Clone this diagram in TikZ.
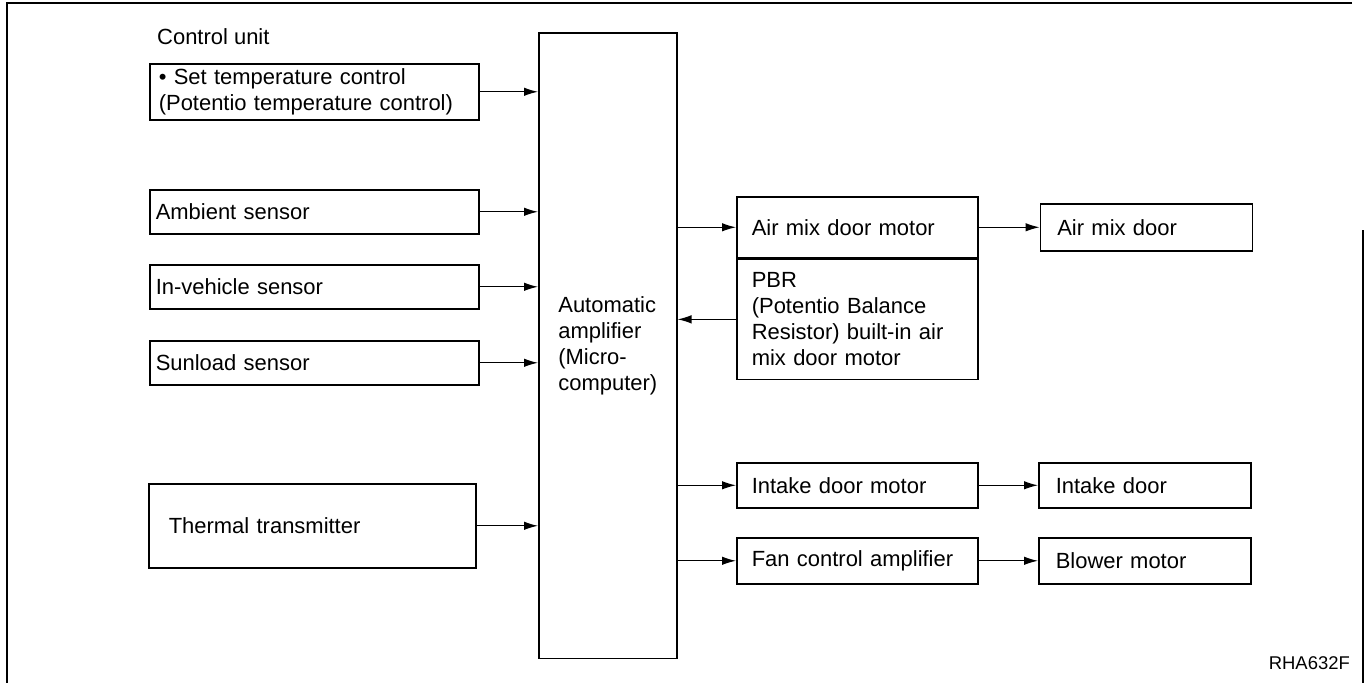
\documentclass[tikz,border=0pt]{standalone}
\usepackage{fontspec}
\setmainfont{Liberation Sans}
\usepackage{tikz}
\usetikzlibrary{arrows.meta,positioning,calc}

\begin{document}
\begin{tikzpicture}[
  x=0.02cm, y=-0.02cm,
  font=\fontsize{12.5}{14.8}\selectfont,
  box/.style={draw,line width=0.9pt,anchor=north west,align=left,inner ysep=1pt,
    execute at begin node={\hyphenpenalty=10000\relax}},
  side/.style={box,text width=6.34cm,inner xsep=0.12cm,minimum height=0.88cm},
  outbox/.style={box,text width=4.22cm,inner xsep=0.3cm,minimum height=0.9cm},
  endbox/.style={box,text width=3.56cm,inner xsep=0.34cm,minimum height=0.9cm},
  arr/.style={-{Latex[length=2.8mm,width=1.7mm]},line width=0.7pt},
  frame/.style={line width=0.9pt}
]
\useasboundingbox (0,0) rectangle (1365,683);
% frame
\draw[frame] (1352,3) -- (7,3) -- (7,683);
\draw[frame] (1363,230) -- (1363,683);
% inputs
\node[anchor=west] (cu) at (151,37) {Control unit};
\node[side,minimum height=1.12cm,text width=6.22cm,inner xsep=0.18cm] (ctrl) at (149,63) {\textbullet\ Set temperature control\\(Potentio temperature control)};
\node[side] (amb) at (149,189) {Ambient sensor};
\node[side] (inveh) at (149,264) {In-vehicle sensor};
\node[side] (sun) at (149,340) {Sunload sensor};
\node[side,text width=5.74cm,inner xsep=0.4cm,minimum height=1.68cm] (therm) at (148,483) {Thermal transmitter};
% amplifier
\node[box,minimum width=2.76cm,minimum height=12.52cm] (amp) at (538,32) {Automatic\\amplifier\\(Micro-\\computer)};
% outputs
\node[outbox,minimum height=1.22cm] (airmot) at (736,196) {Air mix door motor};
\node[outbox,minimum height=2.4cm] (pbr) at (airmot.south west) {PBR\\(Potentio Balance\\Resistor) built-in air\\mix door motor};
\node[endbox,minimum height=0.94cm,anchor=west] (airdoor) at ($(airmot.east)+(61,0)$) {Air mix door};
\node[outbox] (intmot) at (736,462) {Intake door motor};
\node[endbox] (intdoor) at (1038,462) {Intake door};
\node[outbox,minimum height=0.92cm] (fanamp) at (736,537) {Fan control amplifier};
\node[endbox,minimum height=0.92cm] (blower) at (1038,537) {Blower motor};
\node[anchor=east,font=\fontsize{10.5}{12}\selectfont] (code) at (1356,663) {RHA632F};
% connectors
\draw[arr] (ctrl.east) -- (ctrl.east -| amp.west);
\draw[arr] (amb.east) -- (amb.east -| amp.west);
\draw[arr] (inveh.east) -- (inveh.east -| amp.west);
\draw[arr] (sun.east) -- (sun.east -| amp.west);
\draw[arr] (therm.east) -- (therm.east -| amp.west);
\draw[arr] (airmot.west -| amp.east) -- (airmot.west);
\draw[arr] (pbr.west) -- (pbr.west -| amp.east);
\draw[arr] (airmot.east) -- (airdoor.west);
\draw[arr] (intmot.west -| amp.east) -- (intmot.west);
\draw[arr] (intmot.east) -- (intdoor.west);
\draw[arr] (fanamp.west -| amp.east) -- (fanamp.west);
\draw[arr] (fanamp.east) -- (blower.west);
\end{tikzpicture}
\end{document}
